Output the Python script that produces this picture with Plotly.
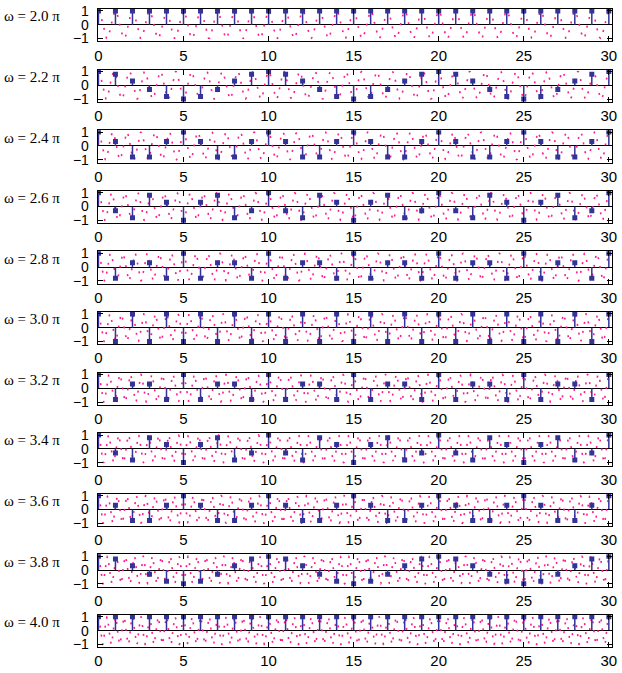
import numpy as np
import plotly.graph_objects as go

# ---- data -----------------------------------------------------------------
omega_pi = [2.0, 2.2, 2.4, 2.6, 2.8, 3.0, 3.2, 3.4, 3.6, 3.8, 4.0]
panel_labels = ["ω = %.1f π" % w for w in omega_pi]
n_values = list(range(31))

stems = [
    [1]*31,
    [1,.81,.31,-.31,-.81,-1,-.81,-.31,.31,.81, 1,.81,.31,-.31,-.81,-1,-.81,-.31,.31,.81, 1,.81,.31,-.31,-.81,-1,-.81,-.31,.31,.81, 1],
    [1,.31,-.81,-.81,.31, 1,.31,-.81,-.81,.31, 1,.31,-.81,-.81,.31, 1,.31,-.81,-.81,.31, 1,.31,-.81,-.81,.31, 1,.31,-.81,-.81,.31, 1],
    [1,-.31,-.81,.81,.31,-1,.31,.81,-.81,-.31, 1,-.31,-.81,.81,.31,-1,.31,.81,-.81,-.31, 1,-.31,-.81,.81,.31,-1,.31,.81,-.81,-.31, 1],
    [1,-.81,.31,.31,-.81, 1,-.81,.31,.31,-.81, 1,-.81,.31,.31,-.81, 1,-.81,.31,.31,-.81, 1,-.81,.31,.31,-.81, 1,-.81,.31,.31,-.81, 1],
    [1,-1,1,-1,1,-1,1,-1,1,-1, 1,-1,1,-1,1,-1,1,-1,1,-1, 1,-1,1,-1,1,-1,1,-1,1,-1, 1],
    [1,-.81,.31,.31,-.81, 1,-.81,.31,.31,-.81, 1,-.81,.31,.31,-.81, 1,-.81,.31,.31,-.81, 1,-.81,.31,.31,-.81, 1,-.81,.31,.31,-.81, 1],
    [1,-.31,-.81,.81,.31,-1,.31,.81,-.81,-.31, 1,-.31,-.81,.81,.31,-1,.31,.81,-.81,-.31, 1,-.31,-.81,.81,.31,-1,.31,.81,-.81,-.31, 1],
    [1,.31,-.81,-.81,.31, 1,.31,-.81,-.81,.31, 1,.31,-.81,-.81,.31, 1,.31,-.81,-.81,.31, 1,.31,-.81,-.81,.31, 1,.31,-.81,-.81,.31, 1],
    [1,.81,.31,-.31,-.81,-1,-.81,-.31,.31,.81, 1,.81,.31,-.31,-.81,-1,-.81,-.31,.31,.81, 1,.81,.31,-.31,-.81,-1,-.81,-.31,.31,.81, 1],
    [1]*31,
]
x_ticks = [0, 5, 10, 15, 20, 25, 30]
y_ticks = [-1, 0, 1]

# ---- figure ---------------------------------------------------------------
W, H = 622, 673
STEM = "#33339a"
DOT = "#ff1a8c"

fig = go.Figure()
t = np.linspace(0, 30, 9001)

for i, (w, vals) in enumerate(zip(omega_pi, stems)):
    ax = "" if i == 0 else str(i + 1)
    # continuous signal drawn dotted
    fig.add_trace(go.Scatter(x=t, y=np.cos(w * np.pi * t), mode="lines",
                             line=dict(color=DOT, width=1.6, dash="2px,7px"),
                             xaxis="x" + ax, yaxis="y" + ax, hoverinfo="skip"))
    sx, sy = [], []
    for n, v in zip(n_values, vals):
        sx += [n, n, None]
        sy += [0, v, None]
    fig.add_trace(go.Scatter(x=sx, y=sy, mode="lines",
                             line=dict(color=STEM, width=1.5),
                             xaxis="x" + ax, yaxis="y" + ax, hoverinfo="skip"))
    fig.add_trace(go.Scatter(x=n_values, y=vals, mode="markers",
                             marker=dict(color=STEM, size=5, symbol="square"),
                             xaxis="x" + ax, yaxis="y" + ax))

    top_px = 3 + 61.6 * i
    bot_px = 36 + 61.6 * i
    fig.layout["xaxis" + ax] = dict(
        domain=[96 / W, 617 / W], range=[-0.04, 30.19], anchor="y" + ax,
        tickvals=x_ticks, ticks="inside", ticklen=5, tickcolor="black",
        showline=True, linecolor="black", linewidth=1.2, mirror="ticks",
        showgrid=False, zeroline=False, ticklabeloverflow="allow",
        tickfont=dict(family="Liberation Sans", size=15, color="black"),
        ticklabelstandoff=0)
    fig.layout["yaxis" + ax] = dict(
        domain=[1 - bot_px / H, 1 - top_px / H], range=[-1.214, 1.143],
        anchor="x" + ax, tickvals=y_ticks, ticks="inside", ticklen=5,
        tickcolor="black", showline=True, linecolor="black", linewidth=1.2,
        mirror="ticks", showgrid=False, zeroline=True, zerolinecolor="black",
        zerolinewidth=1.2, ticklabelstandoff=5, ticklabeloverflow="allow",
        tickfont=dict(family="Liberation Sans", size=14, color="black"))
    fig.add_annotation(text=panel_labels[i], xref="paper", yref="paper",
                       x=0.0, xanchor="left", y=1 - (10.5 + 61.6 * i) / H,
                       yanchor="middle", showarrow=False, borderpad=0,
                       font=dict(family="Liberation Serif", size=15, color="black"))

fig.update_layout(width=W, height=H, margin=dict(l=0, r=0, t=0, b=0),
                  showlegend=False, plot_bgcolor="white", paper_bgcolor="white")
css_js = (
    "var s=document.createElement('style');"
    "s.innerHTML='html,body{margin:0;padding:0;overflow:hidden;"
    "width:622px;height:673px;}';"
    "document.head.appendChild(s);"
)
fig.write_html("out.html", config={"displayModeBar": False}, post_script=css_js)
